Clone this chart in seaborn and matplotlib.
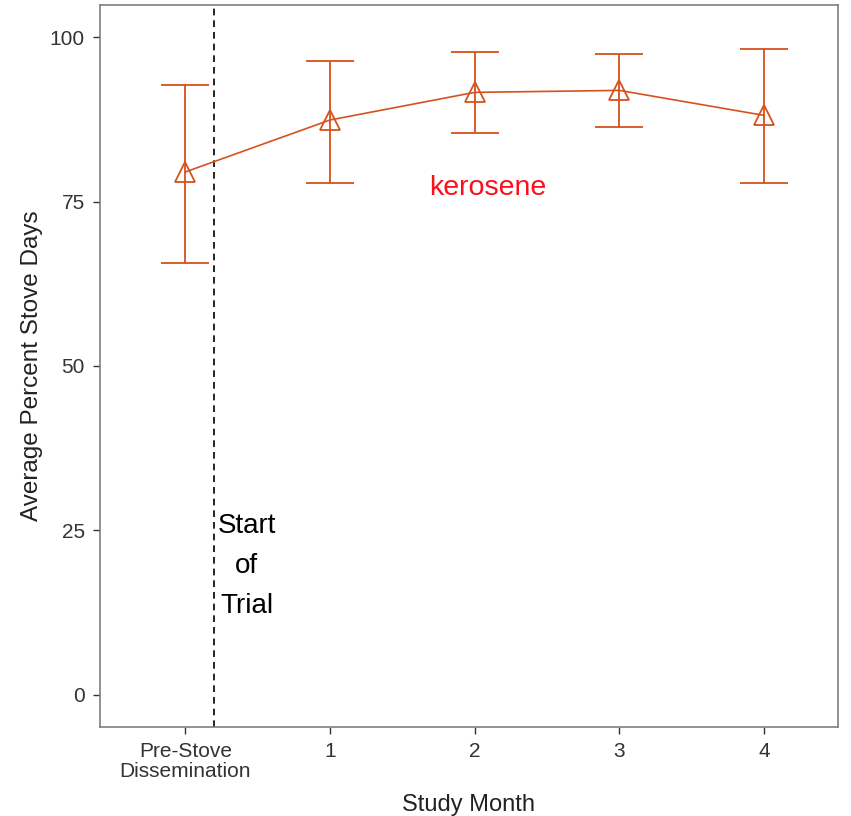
import numpy as np
import pandas as pd
import matplotlib
matplotlib.use("Agg")
import matplotlib.pyplot as plt
import seaborn as sns

# data
month_labels = ["Pre-Stove\nDissemination", "1", "2", "3", "4"]
month_pos = [0, 1, 2, 3, 4]
mean_pct = [79.5, 87.4, 91.6, 91.9, 88.1]
upper_ci = [92.7, 96.4, 97.7, 97.4, 98.2]
lower_ci = [65.7, 77.8, 85.4, 86.3, 77.8]

col = "#D6521C"

sns.set_style("white")
plt.rcParams['font.family'] = ['Liberation Sans', 'DejaVu Sans']

df = pd.DataFrame({"month": month_pos, "pct": mean_pct})

fig = plt.figure(figsize=(8.51, 8.16), dpi=100)
ax = fig.add_axes([0.1175, 0.109, 0.867, 0.885])

yerr = [np.array(mean_pct) - np.array(lower_ci), np.array(upper_ci) - np.array(mean_pct)]
ax.errorbar(month_pos, mean_pct, yerr=yerr, fmt="none", ecolor=col,
            elinewidth=1.3, capsize=17, capthick=1.3, zorder=2)
sns.lineplot(data=df, x="month", y="pct", color=col, linewidth=1.2,
             marker="^", markersize=14, markerfacecolor="none",
             markeredgecolor=col, markeredgewidth=1.3, ax=ax, zorder=3)

# start of trial line and labels
ax.axvline(0.2, color="black", linestyle=(0, (4, 3)), linewidth=1.2)
ax.text(0.425, 19.6, "Start\nof\nTrial", ha="center", va="center",
        fontsize=20, color="black", linespacing=1.72)
ax.text(2.09, 77.0, "kerosene", ha="center", va="center",
        fontsize=20.5, color="#FF0D1A")

ax.set_xlim(-0.59, 4.51)
ax.set_ylim(-4.9, 104.9)
ax.set_xticks(month_pos)
ax.set_xticklabels(month_labels, fontsize=15, color="#333333", linespacing=1.05)
ax.set_yticks([0, 25, 50, 75, 100])
ax.set_yticklabels(["0", "25", "50", "75", "100"], fontsize=15, color="#333333")
ax.tick_params(axis="both", length=5, width=1, color="#333333", direction="out",
               left=True, bottom=True, pad=6)
ax.set_xlabel("Study Month", fontsize=17, color="#222222", labelpad=9)
ax.set_ylabel("Average Percent Stove Days", fontsize=17.5, color="#222222", labelpad=5)
for s in ax.spines.values():
    s.set_color("#7F7F7F")
    s.set_linewidth(1.2)

fig.savefig("out.png", dpi=100)
